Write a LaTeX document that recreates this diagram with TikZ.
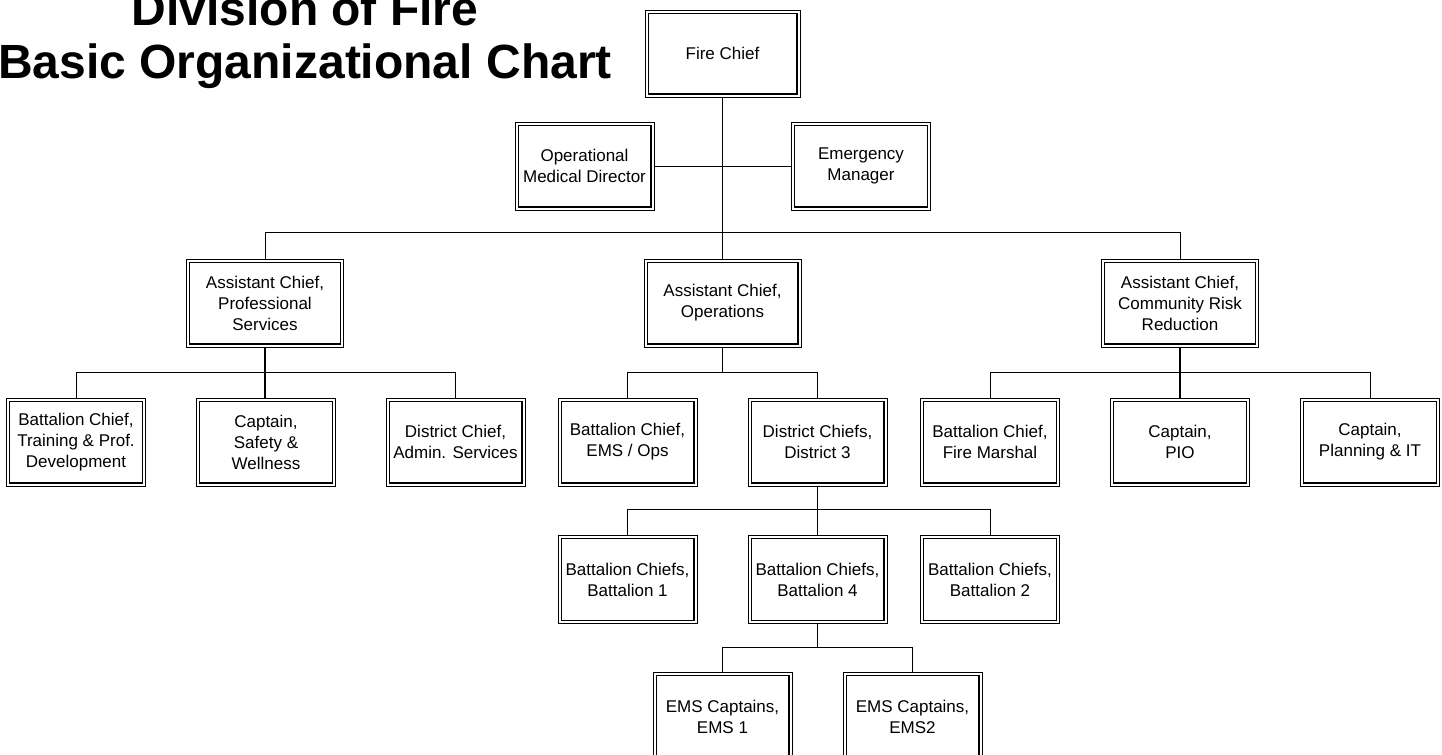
\documentclass[tikz,border=0pt]{standalone}
\usepackage{fontspec}
\setmainfont{Liberation Sans}
\begin{document}
\begin{tikzpicture}[x=0.75pt,y=-0.75pt,
  box/.style={draw, line width=0.6pt, rectangle, align=center, inner sep=0pt,
    font=\fontsize{12.75pt}{15.75pt}\selectfont,
    minimum width=104.25pt, minimum height=66pt},
  wide/.style={minimum width=117.75pt},
  fcbox/.style={minimum width=116.25pt, minimum height=65.25pt},
  titletext/.style={font=\fontsize{36pt}{40pt}\selectfont\bfseries, inner sep=0pt, anchor=base},
  trunk/.style={line width=1pt},
  branch/.style={line width=0.7pt},
  inner/.style={line width=0.9pt}]
\useasboundingbox (0,0) rectangle (1442,754);
% title
\node[titletext] (t1) at (305,25) {Division of Fire};
\node[titletext] (t2) at (305,78) {Basic Organizational Chart};
% level 0/1
\node[box,fcbox] (fc) at (722.5,53.5) {Fire Chief};
\node[box] (omd) at (584.5,166) {Operational\\Medical Director};
\node[box] (em) at (861,166) {Emergency\\Manager};
% level 2
\node[box,wide] (prof) at (265,303) {Assistant Chief,\\Professional\\Services};
\node[box,wide] (ops) at (722.5,303) {Assistant Chief,\\Operations};
\node[box,wide] (crr) at (1180,303) {Assistant Chief,\\Community Risk\\Reduction};
% level 3
\node[box] (train) at (76,442) {Battalion Chief,\\Training \& Prof.\\Development};
\node[box] (safety) at (266,442) {Captain,\\Safety \&\\Wellness};
\node[box] (admin) at (455.5,442) {District Chief,\\Admin. Services};
\node[box] (emsops) at (627.5,442) {Battalion Chief,\\EMS / Ops};
\node[box] (dthree) at (817.5,442) {District Chiefs,\\District 3};
\node[box] (fm) at (990,442) {Battalion Chief,\\Fire Marshal};
\node[box] (pio) at (1180,442) {Captain,\\PIO};
\node[box] (planit) at (1370,442) {Captain,\\Planning \& IT};
% level 4
\node[box] (bone) at (627.5,579.5) {Battalion Chiefs,\\Battalion 1};
\node[box] (bfour) at (817.5,579.5) {Battalion Chiefs,\\Battalion 4};
\node[box] (btwo) at (990,579.5) {Battalion Chiefs,\\Battalion 2};
% level 5
\node[box] (emsone) at (722.5,716.5) {EMS Captains,\\EMS 1};
\node[box] (emstwo) at (912.5,716.5) {EMS Captains,\\EMS2};
% inner borders
\foreach \n in {fc,omd,em,prof,ops,crr,train,safety,admin,emsops,dthree,fm,pio,planit,bone,bfour,btwo,emsone,emstwo}{
  \draw[inner] ([shift={(3.5,3.5)}]\n.north west) rectangle ([shift={(-3.5,-3.5)}]\n.south east);
}
% connectors
\coordinate (opsj) at (722.5,373);
\coordinate (bfourj) at (817.5,648);
\draw[trunk] (fc.south) -- (ops.north);
\draw[branch] (omd.east) -- (em.west);
\draw[branch] (prof.north) -- ++(0,-26) -| (crr.north);
\draw[trunk] (prof.south) -- (prof.south |- safety.north);
\draw[branch] (train.north) -- ++(0,-25) -| (admin.north);
\draw[trunk] (ops.south) -- (opsj);
\draw[branch] (emsops.north) -- ++(0,-25) -| (dthree.north);
\draw[trunk] (crr.south) -- (pio.north);
\draw[branch] (fm.north) -- ++(0,-25) -| (planit.north);
\draw[trunk] (dthree.south) -- (bfour.north);
\draw[branch] (bone.north) -- ++(0,-26) -| (btwo.north);
\draw[trunk] (bfour.south) -- (bfourj);
\draw[branch] (emsone.north) -- ++(0,-25) -| (emstwo.north);
\end{tikzpicture}
\end{document}
